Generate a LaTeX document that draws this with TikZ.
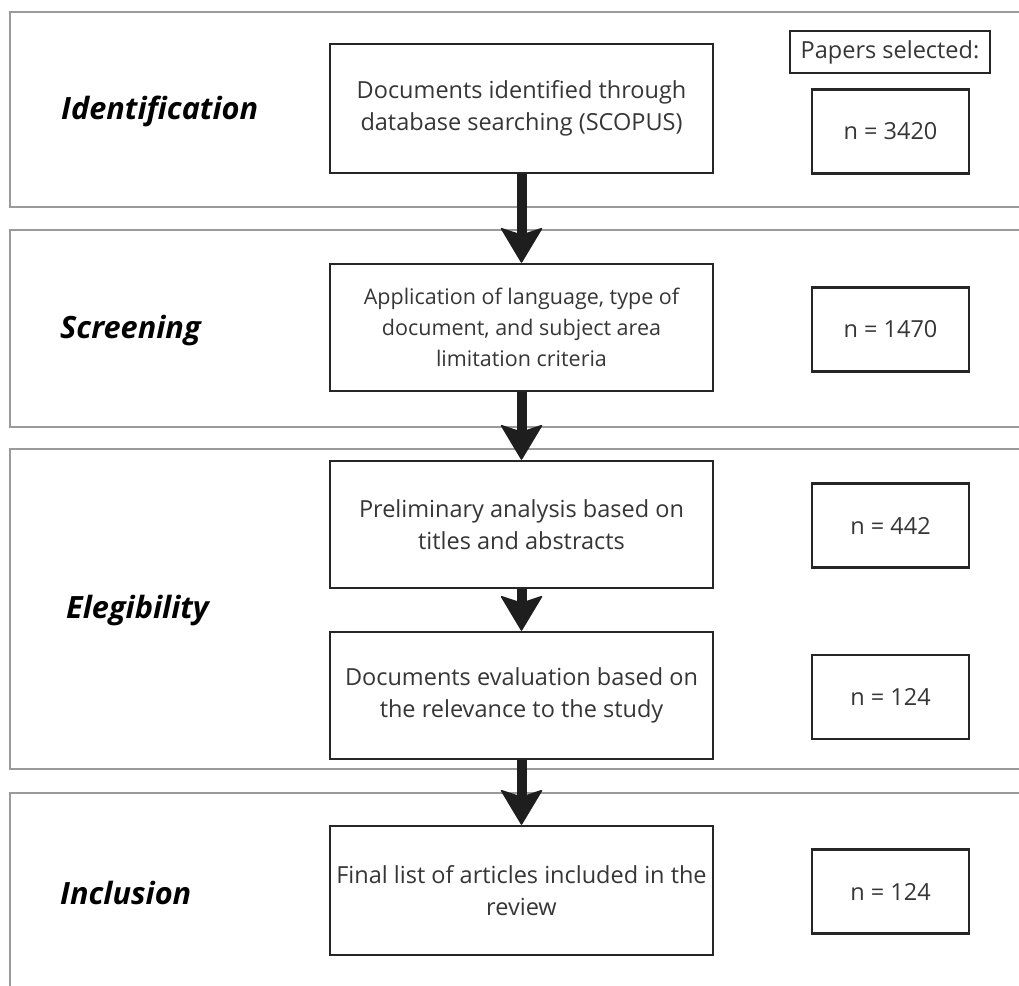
\documentclass[tikz,border=0pt]{standalone}
\usepackage{fontspec}
\setmainfont{Open Sans}
\usetikzlibrary{arrows.meta}
\definecolor{panelgray}{HTML}{9A9A9A}
\definecolor{boxline}{HTML}{262626}
\definecolor{txt}{HTML}{363636}
\definecolor{arrowc}{HTML}{1E1E1E}
\begin{document}
\begin{tikzpicture}[x=1pt,y=-1pt,
  panel/.style={draw=panelgray, line width=2.5pt},
  framed/.style={draw=boxline, line width=2.5pt, fill=white, inner sep=0pt,
    text=txt},
  stepbox/.style={framed, minimum width=383pt, align=center,
    font=\fontsize{23.5}{32.5}\selectfont},
  countbox/.style={framed, minimum width=157pt, minimum height=84pt,
    font=\fontsize{23.5}{28}\selectfont},
  phase/.style={anchor=west, inner sep=0pt, text=black,
    font=\fontsize{30.7}{36}\selectfont\bfseries\itshape},
  flow/.style={draw=arrowc, line width=10pt,
    -{Stealth[width=43pt, length=36pt, inset=7pt, round, line width=1.5pt]}}
]
\useasboundingbox (0,0) rectangle (1019,985);
\clip (0,0) rectangle (1019,985);

% phase panels (open on the right)
\draw[panel] (1030,12)  -- (10,12)  -- (10,207) -- (1030,207);
\draw[panel] (1030,230) -- (10,230) -- (10,427) -- (1030,427);
\draw[panel] (1030,449) -- (10,449) -- (10,769) -- (1030,769);
\draw[panel] (1030,793) -- (10,793) -- (10,1000);

% phase names
\node[phase] (pid)  at (61,111) {Identification};
\node[phase] (pscr) at (60,331) {Screening};
\node[phase] (pel)  at (66,611) {Elegibility};
\node[phase] (pinc) at (60,893) {Inclusion};

% process steps
\node[stepbox, minimum height=129pt] (b1) at (521.5,108.5)
  {Documents identified through\\database searching (SCOPUS)};
\node[stepbox, minimum height=127pt, font=\fontsize{21.5}{31}\selectfont] (b2)
  at (521.5,327.5)
  {Application of language, type of\\document, and subject area\\limitation criteria};
\node[stepbox, minimum height=127pt] (b3) at (521.5,524.5)
  {Preliminary analysis based on\\titles and abstracts};
\node[stepbox, minimum height=127pt] (b4) at (521.5,695.5)
  {Documents evaluation based on\\the relevance to the study};
\node[stepbox, minimum height=129pt] (b5) at (521.5,890.5)
  {Final list of articles included in the\\review};

% counts
\node[framed, minimum width=200pt, minimum height=42pt,
  font=\fontsize{23.5}{28}\selectfont] (head) at (890,52) {Papers selected:};
\node[countbox] (c1) at (890.5,131.5) {n = 3420};
\node[countbox] (c2) at (890.5,329.5) {n = 1470};
\node[countbox] (c3) at (890.5,525.5) {n = 442};
\node[countbox] (c4) at (890.5,697)   {n = 124};
\node[countbox] (c5) at (890.5,891.5) {n = 124};

% flow arrows
\draw[flow] (b1.south) -- (b2.north);
\draw[flow] (b2.south) -- (b3.north);
\draw[flow] (b3.south) -- (b4.north);
\draw[flow] (b4.south) -- (b5.north);
\end{tikzpicture}
\end{document}
